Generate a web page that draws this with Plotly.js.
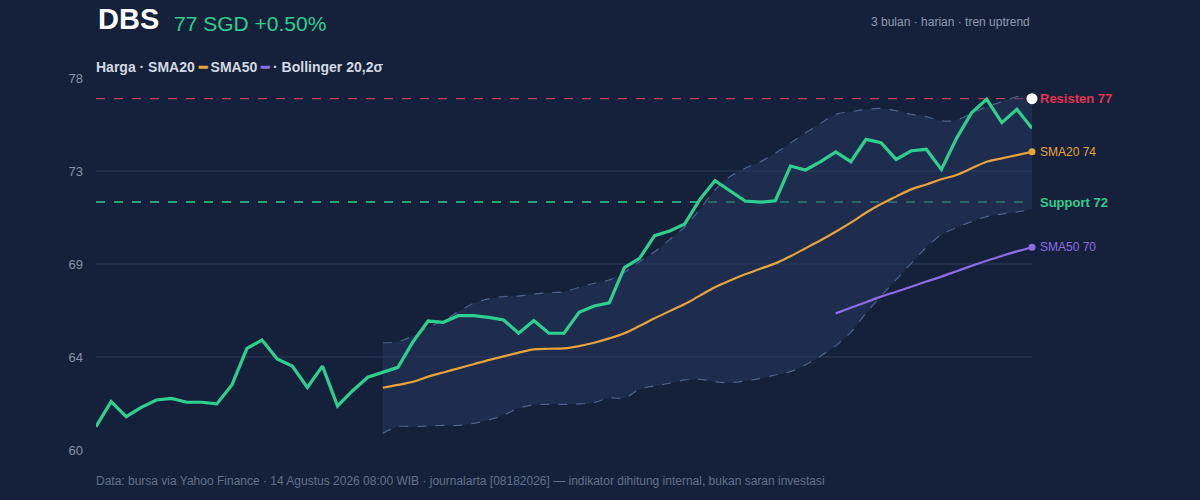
<!DOCTYPE html>
<html><head><meta charset="utf-8">
<script src="https://cdn.plot.ly/plotly-3.0.1.min.js"></script>
<style>html,body{margin:0;padding:0;background:#15213a;}#chart{width:1200px;height:500px;}</style>
</head><body><div id="chart"></div>
<script>
// ---- data ----
const price = [61.13,62.34,61.61,62.06,62.42,62.50,62.31,62.31,62.23,63.15,
  64.92,65.32,64.40,64.06,63.03,64.06,62.13,62.87,63.52,63.77,
  64.00,65.24,66.24,66.18,66.50,66.50,66.42,66.29,65.65,66.26,
  65.65,65.65,66.66,66.97,67.12,68.82,69.27,70.37,70.60,70.94,
  72.13,73.03,72.55,72.05,71.99,72.06,73.74,73.55,73.95,74.42,
  73.95,75.03,74.87,74.06,74.48,74.55,73.58,75.08,76.32,76.97,
  75.84,76.49,75.57];
const sma20 = [63.01,63.15,63.30,63.55,63.75,63.95,64.15,64.35,64.53,64.71,
  64.87,64.90,64.92,65.03,65.19,65.40,65.65,66.00,66.37,66.72,
  67.06,67.47,67.87,68.20,68.50,68.77,69.03,69.38,69.76,70.15,
  70.56,71.00,71.48,71.90,72.26,72.61,72.85,73.10,73.31,73.63,
  73.95,74.11,74.27,74.43];
const sma50 = [66.61,66.88,67.15,67.42,67.66,67.90,68.15,68.39,68.65,68.91,69.16,69.39,69.61,69.81];
const bbUpper = [65.19,65.24,65.53,65.94,66.26,66.69,67.10,67.31,67.42,67.45,
  67.55,67.61,67.66,67.87,68.07,68.23,68.60,69.11,69.59,70.19,
  70.80,71.65,72.58,73.23,73.63,73.95,74.36,74.85,75.35,75.81,
  76.24,76.37,76.48,76.53,76.42,76.24,76.13,75.93,75.97,76.29,
  76.61,76.85,77.10,77.18];
const bbLower = [60.81,61.13,61.13,61.16,61.19,61.19,61.29,61.45,61.69,62.02,
  62.18,62.21,62.21,62.23,62.29,62.53,62.50,62.94,63.10,63.23,
  63.39,63.42,63.30,63.26,63.34,63.47,63.63,63.79,64.12,64.55,
  65.05,65.70,66.62,67.45,68.24,69.03,69.80,70.42,70.76,71.05,
  71.29,71.41,71.52,71.65];
const resistance = 77;
const support = 72;
const lastPrice = 77;
const yTickVals = [60, 64.5, 69, 73.5, 78];
const yTickText = ['60', '64', '69', '73', '78'];
const ticker = 'DBS';
const quote = '77 SGD +0.50%';

// ---- build ----
const n = price.length;
const xs = price.map((_, i) => i);
const sma20x = sma20.map((_, i) => n - sma20.length + i);
const sma50x = sma50.map((_, i) => n - sma50.length + i);
const bbx = bbUpper.map((_, i) => n - bbUpper.length + i);
const lastX = n - 1;

const C = {bg:'#15213a', fill:'rgba(38,56,92,0.55)', band:'#4a628c', green:'#2fcf8f',
  orange:'#e8a33a', purple:'#8a6de6', red:'#e0344f', redLine:'#c43a5c', grid:'#212e49', text:'#8792a8'};
const F = 'Liberation Sans, Arial, Helvetica, sans-serif';

const traces = [
  {x:bbx, y:bbLower, mode:'lines', line:{color:C.band, width:1.2, dash:'dash', shape:'spline'}, hoverinfo:'skip'},
  {x:bbx, y:bbUpper, mode:'lines', fill:'tonexty', fillcolor:C.fill, line:{color:C.band, width:1.2, dash:'dash', shape:'spline'}, hoverinfo:'skip'},
  {x:sma50x, y:sma50, mode:'lines', line:{color:C.purple, width:2.2, shape:'spline'}},
  {x:sma20x, y:sma20, mode:'lines', line:{color:C.orange, width:2.2, shape:'spline'}},
  {x:xs, y:price, mode:'lines', line:{color:C.green, width:3.2}},
  {x:[lastX], y:[sma20[sma20.length-1]], mode:'markers', cliponaxis:false, marker:{color:C.orange, size:7}},
  {x:[lastX], y:[sma50[sma50.length-1]], mode:'markers', cliponaxis:false, marker:{color:C.purple, size:7}},
  {x:[lastX], y:[lastPrice], mode:'markers', cliponaxis:false, marker:{color:'#ffffff', size:11}}
];

const layout = {
  width:1200, height:500, paper_bgcolor:C.bg, plot_bgcolor:C.bg,
  margin:{l:96, r:168, t:78, b:50}, showlegend:false,
  font:{family:F, color:C.text},
  xaxis:{range:[0, n-1], showgrid:false, zeroline:false, showticklabels:false, ticks:'', showline:false},
  yaxis:{range:[60, 78], tickvals:yTickVals, ticktext:yTickText, showgrid:true, gridcolor:C.grid, gridwidth:1.5,
    zeroline:false, showline:false, ticks:'', ticklabelstandoff:12, tickfont:{family:F, size:13, color:C.text}},
  shapes:[
    {type:'line', xref:'paper', x0:0, x1:1, yref:'y', y0:resistance, y1:resistance, line:{color:C.redLine, width:1.3, dash:'dash'}, layer:'below'},
    {type:'line', xref:'paper', x0:0, x1:1, yref:'y', y0:support, y1:support, line:{color:C.green, width:1.3, dash:'dash'}, layer:'below'}
  ],
  annotations:[
    {xref:'paper', yref:'paper', x:0, y:1, xanchor:'left', yanchor:'bottom', yshift:41, showarrow:false,
      text:'<b>'+ticker+'</b>', font:{family:F, size:29, color:'#ffffff'}},
    {xref:'paper', yref:'paper', x:0, y:1, xanchor:'left', yanchor:'bottom', xshift:76, yshift:41, showarrow:false,
      text:quote, font:{family:F, size:21, color:C.green}},
    {xref:'paper', yref:'paper', x:1, y:1, xanchor:'right', yanchor:'bottom', yshift:47, showarrow:false,
      text:'3 bulan · harian · tren uptrend', font:{family:F, size:12, color:'#8d98ae'}},
    {xref:'paper', yref:'paper', x:0, y:1, xanchor:'left', yanchor:'bottom', xshift:-2, yshift:1, showarrow:false,
      text:'<b>Harga · SMA20 <span style="color:'+C.orange+'">━</span> SMA50 <span style="color:'+C.purple+'">━</span> · Bollinger 20,2σ</b>',
      font:{family:F, size:14, color:'#d3d9e4'}},
    {xref:'paper', yref:'y', x:1, y:resistance, xanchor:'left', xshift:6, showarrow:false,
      text:'<b>Resisten '+resistance+'</b>', font:{family:F, size:13, color:C.red}},
    {xref:'paper', yref:'y', x:1, y:sma20[sma20.length-1], xanchor:'left', xshift:6, showarrow:false,
      text:'SMA20 '+Math.round(sma20[sma20.length-1]), font:{family:F, size:12, color:C.orange}},
    {xref:'paper', yref:'y', x:1, y:support, xanchor:'left', xshift:6, showarrow:false,
      text:'<b>Support '+support+'</b>', font:{family:F, size:13, color:C.green}},
    {xref:'paper', yref:'y', x:1, y:sma50[sma50.length-1], xanchor:'left', xshift:6, showarrow:false,
      text:'SMA50 '+Math.round(sma50[sma50.length-1]), font:{family:F, size:12, color:C.purple}},
    {xref:'paper', yref:'paper', x:0, y:0, xanchor:'left', yanchor:'top', yshift:-22, xshift:-2, showarrow:false,
      text:'Data: bursa via Yahoo Finance · 14 Agustus 2026 08:00 WIB · journalarta [08182026] — indikator dihitung internal, bukan saran investasi',
      font:{family:F, size:12, color:'#62708c'}}
  ]
};

Plotly.newPlot('chart', traces, layout, {staticPlot:true, displayModeBar:false});
</script></body></html>
